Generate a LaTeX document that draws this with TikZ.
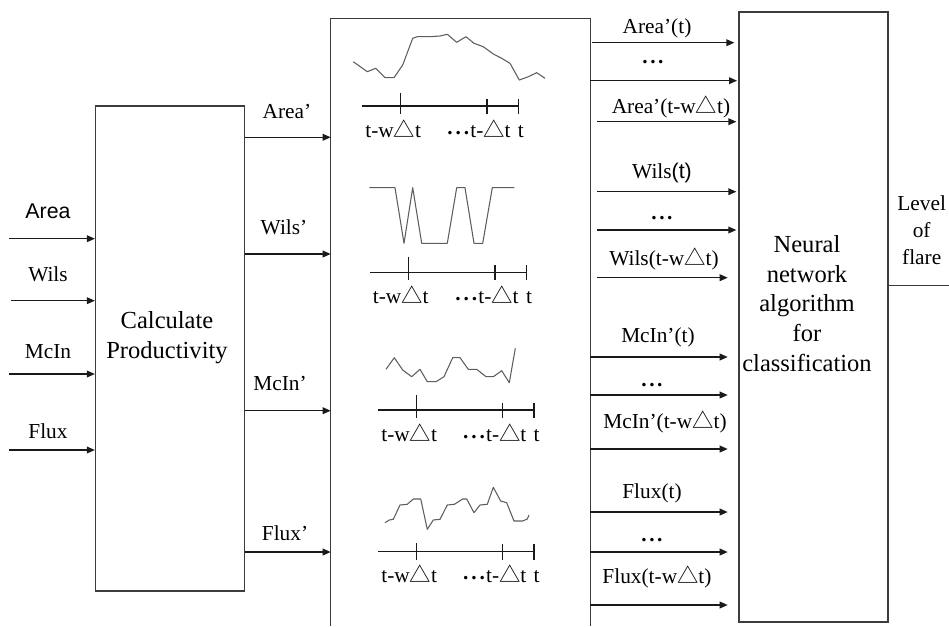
\documentclass[tikz,border=0pt]{standalone}
\usepackage{fontspec}
\setmainfont{Liberation Serif}
\newfontfamily\arialfont{Liberation Sans}
\newfontfamily\cjk{Noto Sans CJK SC}
\usetikzlibrary{arrows.meta,positioning}
\definecolor{flareInk}{HTML}{1A1A1A}
\definecolor{flareFrame}{HTML}{3C3C3C}
\definecolor{flareWave}{HTML}{5E5E5E}
\newcommand{\tri}{{\cjk △}}
\newcommand{\mdots}{\raisebox{0.3ex}{\textbf{.\kern0.14em.\kern0.14em.}}\kern0.05em}
\newcommand{\cdotsbold}{\textbf{.\kern0.12em.\kern0.12em.}}

\tikzset{
  frame/.style={draw=flareFrame, line width=0.9pt, inner sep=0pt},
  feed/.style={draw=flareInk, line width=1pt, -{Triangle[length=6pt,width=5pt]}},
  wave/.style={draw=flareWave, line width=0.8pt, line join=round},
  axis/.style={draw=flareInk, line width=0.8pt},
  boxtext/.style={font=\fontsize{18.4}{22.3}\selectfont, align=center},
  ticklabel/.style={anchor=base},
}

\begin{document}
\begin{tikzpicture}[x=0.75pt, y=-0.75pt, every node/.style={font=\fontsize{16}{19}\selectfont, inner sep=0pt}]
  \useasboundingbox (0,0) rectangle (949,626);

  \node[frame, minimum width=111.75pt, minimum height=363.75pt] (calc) at (170,348.5) {};
  \node[minimum width=194.25pt, minimum height=455.25pt] (series) at (460.5,322.5) {};
  \draw[frame] (series.south west) -- (series.north west) -- (series.north east) -- (series.south east);
  \node[frame, minimum width=111.75pt, minimum height=457.5pt] (nn) at (813.5,317) {};

  \node[boxtext] (calctext) at (167,337.5) {Calculate\\Productivity};
  \node[boxtext] (nntext) at (807,303.5) {Neural\\network\\algorithm\\for\\classification};
  \node[align=center, font=\fontsize{16}{20.25}\selectfont] (level) at (921.7,230) {Level\\of\\flare};
  \coordinate (out) at (949,285.5);
  \draw[frame] (nn.east |- out) -- (out);

  % raw inputs
  \foreach \name/\txt/\x/\y/\ly in {area/{\arialfont Area}/9/238.7/211, wils/Wils/11/300.7/274, mcin/McIn/9/374/352, flux/Flux/9/450/431} {
    \coordinate (\name) at (\x,\y);
    \draw[feed] (\name) -- (\name -| calc.west);
    \node (\name lbl) at (48,\ly) {\txt};
  }

  % productivity outputs
  \foreach \name/\txt/\y/\lx/\ly in {areap/Area'/137.3/287/111.7, wilsp/Wils'/254/284/227, mcinp/McIn'/410.7/280/384, fluxp/Flux'/552/285/533.3} {
    \draw[feed] (calc.east |- 0,\y) -- (series.west |- 0,\y);
    \node (\name) at (\lx,\ly) {\txt};
  }

  % sampled series
  \draw[wave] (353.3,61.7) -- (367.3,71.7) -- (375.7,68.3) -- (385,77.7) -- (394,77.7) -- (402.7,65) -- (412.7,38.3) -- (417.3,36.7) -- (430,36.7) -- (440,36) -- (447.3,34.3) -- (456.7,42.3) -- (466,36.7) -- (474,43.3) -- (483.3,46.7) -- (493.3,54) -- (501.7,58.3) -- (510,63.3) -- (519.3,80) -- (528.3,76.7) -- (536.7,72.7) -- (545,78.3);
  \draw[wave] (369.3,187.7) -- (395,187.7) -- (404,243.3) -- (412.7,187.7) -- (421.7,243.3) -- (447.3,243.3) -- (456.7,187.7) -- (465,187.7) -- (474,243.3) -- (482.7,243.3) -- (492.3,187.7) -- (514.3,187.7);
  \draw[wave] (386,369.3) -- (394.3,357.7) -- (402.7,370) -- (411.7,376.7) -- (420,369.3) -- (427.3,381.7) -- (436,381.7) -- (444,376.7) -- (452.7,357.7) -- (460,357.7) -- (468.3,369.3) -- (476.7,369.3) -- (486,376.7) -- (493.3,376.7) -- (501.7,370.7) -- (509.3,382.7) -- (515.3,348.3);
  \draw[wave] (385,522.7) -- (389.3,520) -- (393.3,519.3) -- (400,505) -- (407.3,504.3) -- (413.3,499) -- (420.7,499) -- (427.3,529.3) -- (433.3,520) -- (440,519.3) -- (447.3,505) -- (454.3,504.3) -- (462.7,499) -- (466.7,499) -- (474,512.7) -- (480,505) -- (487.3,504.3) -- (493.3,487.3) -- (500.7,501) -- (506.7,502.7) -- (514,521) -- (522.7,521) -- (527.3,519) -- (529,515);

  % time axes
  \foreach \ay/\xl/\xr/\ta/\tb/\up [count=\i] in {106/361.7/518.3/400.7/487/12.7, 272.3/370/526.7/408.3/495/15.6, 410/378.3/534/416.7/502.7/15, 551.7/378.3/534/416.7/502.7/8.4} {
    \draw[axis] (\xl,\ay) -- (\xr,\ay);
    \draw[axis] (\ta,\ay-\up) -- (\ta,\ay+8);
    \draw[axis] (\tb,\ay-7.3) -- (\tb,\ay+8);
    \draw[axis] (\xr,\ay-7.3) -- (\xr,\ay+8);
    \node[ticklabel] (win\i) at (\ta-7.5,\ay+31) {t-w\tri t};
    \node[ticklabel] (lag\i) at (\tb-8,\ay+31) {\mdots t-\tri t};
    \node[ticklabel] (now\i) at (\xr+2.5,\ay+31) {t};
  }

  % delayed inputs to the classifier
  \foreach \y/\s/\e in {42.7/1.5/3, 80.7/0/1, 121.7/5.25/1.5, 191.7/5.25/1.5, 230/5.25/1.5, 277.7/5.25/8, 357/0/8, 395/0/8, 449/0/8, 512/0/8, 552/0/8, 605/0/8}
    \draw[feed, shorten <=\s pt, shorten >=\e pt] (series.east |- 0,\y) -- (nn.west |- 0,\y);

  \foreach \name/\txt/\x/\y in {a0/Area'(t)/657/28.3, a1/\cdotsbold/653/61.7, a2/Area'(t-w\tri t)/671/107,
      w0/Wils{\arialfont(t)}/662/173, w1/\cdotsbold/662/218, w2/Wils(t-w\tri t)/664/259,
      m0/McIn'(t)/658/337, m1/\cdotsbold/652/385, m2/McIn'(t-w\tri t)/665/422,
      f0/Flux(t)/652/493, f1/\cdotsbold/652/540, f2/Flux(t-w\tri t)/657/577}
    \node (\name) at (\x,\y) {\txt};
\end{tikzpicture}
\end{document}
